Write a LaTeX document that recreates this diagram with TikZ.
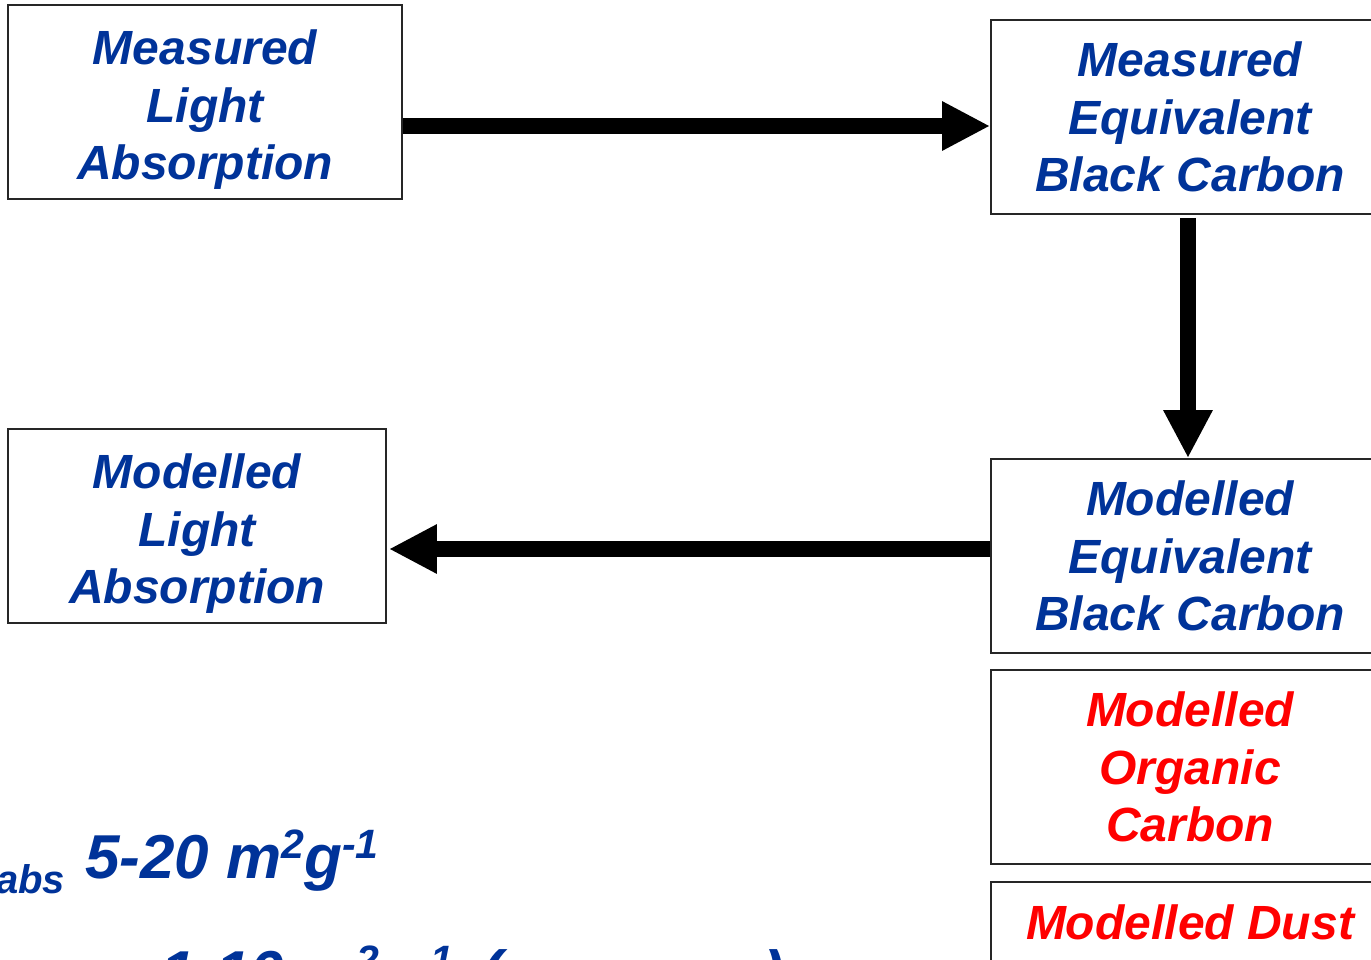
\documentclass[tikz,border=0pt]{standalone}
\usepackage{fontspec}
\setmainfont{Liberation Sans}
\usetikzlibrary{arrows.meta,calc}
\definecolor{bluetxt}{RGB}{0,51,153}
\definecolor{redtxt}{RGB}{255,0,0}
\newcommand{\boxfont}{\fontsize{48}{57.5}\selectfont\bfseries\itshape}
\newcommand{\bigfont}{\fontsize{62}{70}\selectfont\bfseries\itshape}
\newcommand{\supup}[1]{\raisebox{20pt}{\fontsize{41}{44}\selectfont\bfseries\itshape #1}}
\tikzset{
  flowbox/.style={draw=black!85, line width=1.8pt, rectangle, inner sep=0pt,
    minimum height=194pt, align=center, font=\boxfont},
  bluebox/.style={flowbox, text=bluetxt},
  redbox/.style={flowbox, text=redtxt},
  fatarrow/.style={line width=16pt, draw=black, -{Triangle[length=48pt,width=46pt]}},
  bigtext/.style={text=bluetxt, inner sep=0pt, font=\bigfont},
}
\begin{document}
\begin{tikzpicture}[x=1pt,y=-1pt]
\useasboundingbox[fill=white] (0,0) rectangle (1371,959);
% boxes
\node[bluebox, minimum width=394pt] (mla) at (205,102) {\rule{0pt}{41pt}Measured\\Light\\Absor\smash{p}tion};
\node[bluebox, minimum width=398pt] (mebc) at (1190,117) {Measured\\Equivalent\\Black Carbon};
\node[bluebox, minimum width=398pt] (modebc) at (1190,556) {Modelled\\Equivalent\\Black Carbon};
\node[bluebox, minimum width=378pt] (modla) at (197,526) {\rule{0pt}{41pt}Modelled\\Light\\Absor\smash{p}tion};
\node[redbox, minimum width=398pt] (modoc) at (1190,767) {Modelled\\Organic\\Carbon};
\node[redbox, minimum width=398pt, minimum height=80pt] (moddust) at (1190,922) {Modelled Dust};
% arrow guides
\coordinate (r1) at (0,126);
\coordinate (r2) at (1188,0);
\coordinate (r3) at (0,549);
\draw[fatarrow] (mla.east |- r1) -- (mebc.west |- r1);
\draw[fatarrow] ($(mebc.south -| r2)+(0,3)$) -- (modebc.north -| r2);
\draw[fatarrow] (modebc.west |- r3) -- ($(modla.east |- r3)+(2,0)$);
% bottom texts
\node[bigtext, anchor=base west, font=\fontsize{40}{44}\selectfont\bfseries\itshape] (abs) at (-4,893) {abs};
\node[bigtext, anchor=base west] (mac1) at (85,878) {5-20 m\supup{2}g\supup{-1}};
\node[bigtext, anchor=base west] (mac2) at (160,994) {1-10 m\supup{2}g\supup{-1}\hspace{10pt} (\hspace{262pt})};
\end{tikzpicture}
\end{document}
